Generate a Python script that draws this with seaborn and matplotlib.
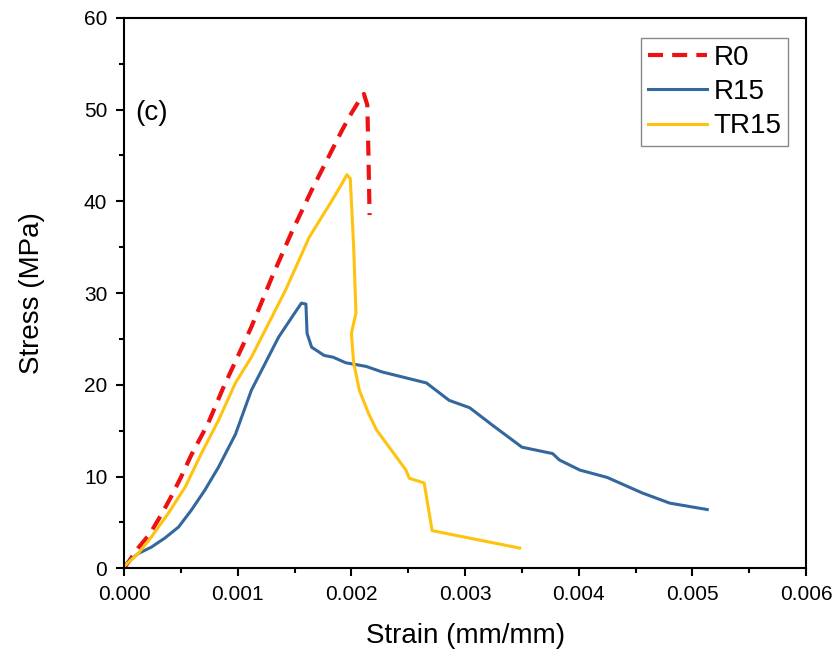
import numpy as np
import pandas as pd
import seaborn as sns
import matplotlib.pyplot as plt
from matplotlib.ticker import MultipleLocator

# strain (mm/mm) and stress (MPa)
r0_strain = [0.0, 0.000124, 0.00023, 0.00034, 0.00041, 0.0005, 0.00059, 0.00074, 0.00087,
             0.00112, 0.0013, 0.00147, 0.00165, 0.00183, 0.00192, 0.0020, 0.00206, 0.00211,
             0.00214, 0.00215, 0.00216]
r0_stress = [0.0, 2.2, 3.8, 6.1, 7.7, 9.9, 12.3, 15.8, 19.6,
             26.3, 31.7, 36.5, 41.2, 45.6, 47.8, 49.6, 50.8, 51.7,
             50.5, 45.0, 38.5]

r15_strain = [0.0, 0.000124, 0.00024, 0.00036, 0.00048, 0.00059, 0.00071, 0.00083, 0.00098,
              0.00112, 0.00136, 0.0015, 0.00156, 0.0016, 0.00161, 0.00165, 0.00176, 0.00184,
              0.00195, 0.00213, 0.00227, 0.00266, 0.00286, 0.00304, 0.00324, 0.0035,
              0.00377, 0.00383, 0.00401, 0.00425, 0.00456, 0.0048, 0.00513]
r15_stress = [0.3, 1.6, 2.3, 3.3, 4.5, 6.3, 8.5, 11.0, 14.6,
              19.4, 25.2, 27.8, 28.9, 28.8, 25.6, 24.1, 23.2, 23.0,
              22.4, 22.0, 21.4, 20.2, 18.3, 17.5, 15.6, 13.2,
              12.5, 11.8, 10.7, 9.9, 8.2, 7.1, 6.4]

tr15_strain = [0.0, 0.000124, 0.00024, 0.00039, 0.00054, 0.00068, 0.00083, 0.00098, 0.00112,
               0.00142, 0.00163, 0.00183, 0.00192, 0.00196, 0.00199, 0.00202, 0.00204, 0.0020,
               0.00202, 0.00207, 0.00215, 0.00222, 0.00248, 0.00251, 0.00264, 0.00271, 0.00348]
tr15_stress = [0.2, 1.6, 3.4, 6.0, 8.9, 12.5, 16.1, 20.2, 23.0,
               30.3, 36.1, 40.1, 42.0, 42.9, 42.5, 35.0, 27.8, 25.6,
               22.4, 19.4, 16.9, 15.1, 10.7, 9.8, 9.3, 4.1, 2.2]

plt.rcParams['font.family'] = ['Liberation Sans', 'DejaVu Sans']

fig = plt.figure(figsize=(8.38, 6.6), dpi=100)
ax = fig.add_axes([0.148, 0.139, 0.814, 0.834])

sns.lineplot(x=r0_strain, y=r0_stress, sort=False, estimator=None, ax=ax,
             color='#ee1111', linewidth=3.0, label='R0')
ax.lines[-1].set_dashes([3.6, 2.2])
sns.lineplot(x=r15_strain, y=r15_stress, sort=False, estimator=None, ax=ax,
             color='#33679e', linewidth=2.2, label='R15')
sns.lineplot(x=tr15_strain, y=tr15_stress, sort=False, estimator=None, ax=ax,
             color='#ffc20e', linewidth=2.2, label='TR15')

ax.set_xlim(0, 0.006)
ax.set_ylim(0, 60)
ax.xaxis.set_major_locator(MultipleLocator(0.001))
ax.xaxis.set_minor_locator(MultipleLocator(0.0005))
ax.yaxis.set_major_locator(MultipleLocator(10))
ax.yaxis.set_minor_locator(MultipleLocator(5))
ax.xaxis.set_major_formatter(plt.FormatStrFormatter('%.3f'))
ax.tick_params(which='major', direction='out', length=6, width=1.5, labelsize=15, pad=6)
ax.tick_params(which='minor', direction='out', length=3.5, width=1.5)
for s in ax.spines.values():
    s.set_linewidth(1.5)

ax.set_xlabel('Strain (mm/mm)', fontsize=20, labelpad=14)
ax.set_ylabel('Stress (MPa)', fontsize=20, labelpad=28)
ax.text(0.016, 0.815, '(c)', transform=ax.transAxes, fontsize=20)

leg = ax.legend(loc='upper right', bbox_to_anchor=(0.974, 0.964), fontsize=20,
                frameon=True, fancybox=False, edgecolor='#888888', framealpha=1,
                handlelength=2.1, handletextpad=0.25, borderpad=0.25, labelspacing=0.3,
                borderaxespad=0)
leg.get_frame().set_linewidth(1.0)

fig.savefig('out.png', dpi=100)
